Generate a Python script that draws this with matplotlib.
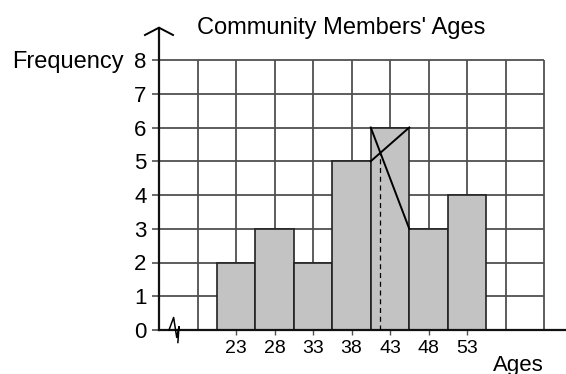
import numpy as np
import matplotlib
matplotlib.use('Agg')
import matplotlib.pyplot as plt

plt.rcParams['font.family'] = ['Liberation Sans', 'DejaVu Sans']

# data
ages = [23, 28, 33, 38, 43, 48, 53]
freq = [2, 3, 2, 5, 6, 3, 4]
bin_width = 5
y_ticks = [0, 1, 2, 3, 4, 5, 6, 7, 8]
grid_x = np.arange(13, 64, 5)

fig = plt.figure(figsize=(5.66, 3.74), dpi=100)
W, H = 566, 374
ax = fig.add_axes([159 / W, (H - 330) / H, (W - 159) / W, 302.3 / H])
ax.set_xlim(13, 13 + (W - 159) / 7.7)
ax.set_ylim(0, 302.3 / 33.75)

gc = '#505050'
ax.vlines(grid_x[1:], 0, 8, color=gc, lw=1.3, zorder=1)
ax.hlines(y_ticks[1:], 13, 63, color=gc, lw=1.3, zorder=1)

ax.bar(ages, freq, width=bin_width, color='#c3c3c3', edgecolor='#222222',
       linewidth=1.2, zorder=2)

# mode estimate lines
m = int(np.argmax(freq))
left = ages[m] - bin_width / 2
right = ages[m] + bin_width / 2
ax.plot([left, right], [freq[m - 1], freq[m]], color='black', lw=1.4, zorder=3)
ax.plot([left, right], [freq[m], freq[m + 1]], color='black', lw=1.4, zorder=3)
d1 = freq[m] - freq[m - 1]
d2 = freq[m] - freq[m + 1]
xm = left + bin_width * d1 / (d1 + d2)
ym = freq[m - 1] + (xm - left) / bin_width * d1
ax.plot([xm, xm], [0, ym], color='black', lw=0.9, ls=(0, (4, 3)), zorder=3)

for s in ['top', 'right']:
    ax.spines[s].set_visible(False)
for s in ['left', 'bottom']:
    ax.spines[s].set_linewidth(1.6)
    ax.spines[s].set_color('#111111')

ax.set_yticks(y_ticks)
ax.set_yticklabels([str(v) for v in y_ticks], fontsize=16)
ax.set_xticks(ages)
ax.set_xticklabels([str(v) for v in ages], fontsize=14)
ax.tick_params(axis='y', length=5, width=1.2, color=gc, pad=4)
ax.tick_params(axis='x', length=3.6, width=1.0, color=gc, pad=3.5)

# arrow chevron at top of y axis
ytop = ax.get_ylim()[1]
ax.plot([13 - 1.82, 13, 13 + 1.82], [ytop - 0.216, ytop, ytop - 0.216],
        color='black', lw=1.4, clip_on=False, zorder=4)

# axis break symbol
ax.plot([14.3, 14.9, 15.3, 15.6, 15.45], [0, 0.37, -0.22, 0.1, -0.37],
        color='black', lw=1.1, clip_on=False, zorder=4)

fig.text(341 / W, (H - 34) / H, "Community Members' Ages", fontsize=17,
         ha='center', va='baseline')
fig.text(12 / W, (H - 68) / H, 'Frequency', fontsize=17, ha='left', va='baseline')
fig.text(518 / W, (H - 371) / H, 'Ages', fontsize=16, ha='center', va='baseline')

fig.savefig('out.png', dpi=100)
